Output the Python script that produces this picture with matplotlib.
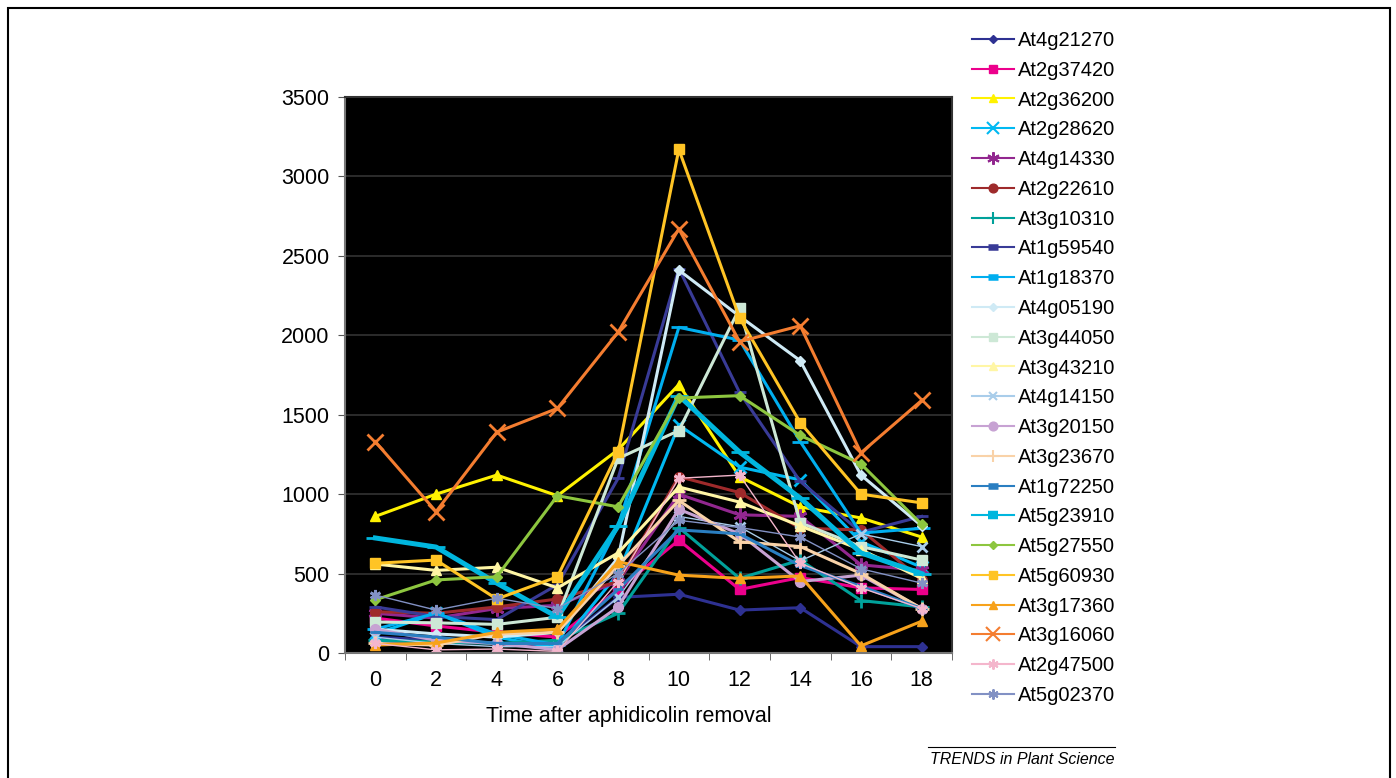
import matplotlib
matplotlib.use('Agg')
import matplotlib.pyplot as plt
from matplotlib.patches import Rectangle
from matplotlib.lines import Line2D

plt.rcParams['font.family'] = ['Liberation Sans', 'DejaVu Sans']

hours = [0, 2, 4, 6, 8, 10, 12, 14, 16, 18]

genes = ['At4g21270', 'At2g37420', 'At2g36200', 'At2g28620', 'At4g14330',
         'At2g22610', 'At3g10310', 'At1g59540', 'At1g18370', 'At4g05190',
         'At3g44050', 'At3g43210', 'At4g14150', 'At3g20150', 'At3g23670',
         'At1g72250', 'At5g23910', 'At5g27550', 'At5g60930', 'At3g17360',
         'At3g16060', 'At2g47500', 'At5g02370']

At4g21270 = [100, 80, 60, 50, 350, 370, 270, 285, 40, 40]
At2g37420 = [220, 170, 130, 100, 400, 710, 400, 475, 410, 400]
At2g36200 = [860, 1000, 1120, 990, 1280, 1690, 1110, 920, 850, 730]
At2g28620 = [120, 250, 100, 30, 500, 1435, 1170, 1090, 700, 540]
At4g14330 = [250, 220, 280, 300, 450, 1000, 870, 860, 555, 520]
At2g22610 = [260, 250, 290, 340, 450, 1110, 1010, 785, 775, 460]
At3g10310 = [80, 70, 60, 80, 250, 790, 470, 585, 330, 290]
At1g59540 = [290, 230, 210, 430, 1100, 2420, 1640, 1080, 760, 860]
At1g18370 = [150, 250, 120, 50, 800, 2050, 1970, 1330, 755, 785]
At4g05190 = [150, 120, 100, 130, 600, 2410, 2120, 1840, 1120, 800]
At3g44050 = [195, 190, 180, 225, 1225, 1400, 2170, 820, 670, 585]
At3g43210 = [560, 520, 540, 410, 630, 1045, 950, 800, 650, 470]
At4g14150 = [100, 60, 40, 40, 350, 860, 795, 580, 750, 670]
At3g20150 = [150, 80, 60, 20, 290, 905, 750, 450, 490, 280]
At3g23670 = [60, 50, 120, 130, 550, 960, 700, 670, 500, 280]
At1g72250 = [130, 100, 60, 60, 400, 775, 750, 550, 420, 280]
At5g23910 = [724, 667, 440, 226, 800, 1620, 1265, 975, 630, 500]
At5g27550 = [335, 460, 480, 990, 920, 1605, 1620, 1370, 1190, 810]
At5g60930 = [565, 585, 340, 480, 1265, 3170, 2110, 1450, 1000, 945]
At3g17360 = [50, 63, 130, 150, 575, 490, 470, 485, 45, 200]
At3g16060 = [1330, 890, 1390, 1540, 2020, 2670, 1960, 2060, 1260, 1590]
At2g47500 = [60, 20, 25, 10, 450, 1100, 1120, 565, 410, 280]
At5g02370 = [365, 270, 345, 280, 500, 835, 790, 730, 530, 440]

values = [At4g21270, At2g37420, At2g36200, At2g28620, At4g14330,
          At2g22610, At3g10310, At1g59540, At1g18370, At4g05190,
          At3g44050, At3g43210, At4g14150, At3g20150, At3g23670,
          At1g72250, At5g23910, At5g27550, At5g60930, At3g17360,
          At3g16060, At2g47500, At5g02370]

star6 = (6, 2, 0)
# colour, marker, marker size, line width
styles = [
    ('#2e3192', 'D', 5, 2.2),
    ('#ec008c', 's', 7, 2.2),
    ('#fff200', '^', 7, 2.2),
    ('#00b9f2', 'x', 9, 2.2),
    ('#92278f', star6, 10, 2.2),
    ('#9e2a2b', 'o', 7, 2.2),
    ('#00a19a', '+', 10, 2.2),
    ('#393b97', '_', 9, 2.2),
    ('#00aeef', '_', 11, 2.2),
    ('#cfeaf5', 'D', 5, 2.2),
    ('#cde8d6', 's', 7, 2.2),
    ('#fff6a5', '^', 7, 2.2),
    ('#a9cdea', 'x', 7, 1.0),
    ('#c7a2d3', 'o', 7, 2.2),
    ('#f9d2a8', '+', 10, 2.2),
    ('#2a7ec1', '_', 7, 2.2),
    ('#00b6de', '_', 13, 3.6),
    ('#8dc63f', 'D', 5, 2.2),
    ('#ffc425', 's', 7, 2.2),
    ('#f7a21b', '^', 7, 2.2),
    ('#f47d30', 'x', 11, 2.2),
    ('#f4b6cc', star6, 8, 1.0),
    ('#8291c4', star6, 8, 1.0),
]

fig = plt.figure(figsize=(13.96, 7.78), dpi=100)
ax = fig.add_axes([345/1396, 1 - 653/778, 607/1396, 556/778])
ax.set_facecolor('black')

handles = []
for name, vals, (c, m, ms, lw) in zip(genes, values, styles):
    ax.plot(hours, vals, color=c, lw=lw, marker=m, ms=ms,
            mec=c, mfc=c, mew=2 if m in ('x', '+', '_', star6) else 1)
    if m == '_':
        # short thick bar, as in the original key
        handles.append(Line2D([], [], color=c, lw=1.5, marker='_',
                              ms=7, mec=c, mew=lw + 2.5))
    else:
        handles.append(Line2D([], [], color=c, lw=1.5, marker=m,
                              ms=ms * 0.9, mec=c, mfc=c,
                              mew=1.5 if m in ('x', '+', star6) else 1))

ax.set_xlim(-1, 19)
ax.set_ylim(0, 3500)
ax.set_yticks(range(0, 3501, 500))
ax.set_xticks(hours)
ax.set_xticks([h - 1 for h in hours] + [19], minor=True)
ax.tick_params(axis='x', which='major', length=0, labelsize=15.5, pad=12)
ax.tick_params(axis='x', which='minor', length=5, color='#555555')
ax.tick_params(axis='y', length=5, labelsize=15.5, color='#555555', pad=6)
ax.yaxis.grid(True, color='#333333', lw=1.2)
ax.set_axisbelow(True)
for s in ax.spines.values():
    s.set_color('#333333')
    s.set_linewidth(1.5)
ax.spines['left'].set_color('#777777')
ax.spines['bottom'].set_color('#777777')
ax.set_xlabel('Time after aphidicolin removal', fontsize=15.5, labelpad=12)
ax.xaxis.set_label_coords(0.468, -0.095)

fig.legend(handles, genes, loc='upper left',
           bbox_to_anchor=(972/1396, 1 - 31/778), frameon=False,
           fontsize=14.5, handlelength=2.1, handletextpad=0.2,
           labelspacing=0.535, borderaxespad=0, borderpad=0)

fig.patches.append(Rectangle((8/1396, -0.1), 1382/1396, 1.1 - 8/778,
                             transform=fig.transFigure, fill=False,
                             edgecolor='black', lw=1.5))
fig.lines.append(Line2D([928/1396, 1115/1396], [1 - 747/778, 1 - 747/778],
                        transform=fig.transFigure, color='black', lw=0.8))
fig.text(1115/1396, 1 - 760/778, 'TRENDS in Plant Science', ha='right',
         va='center', fontsize=11.5, style='italic')

fig.savefig('out.png', dpi=100)
